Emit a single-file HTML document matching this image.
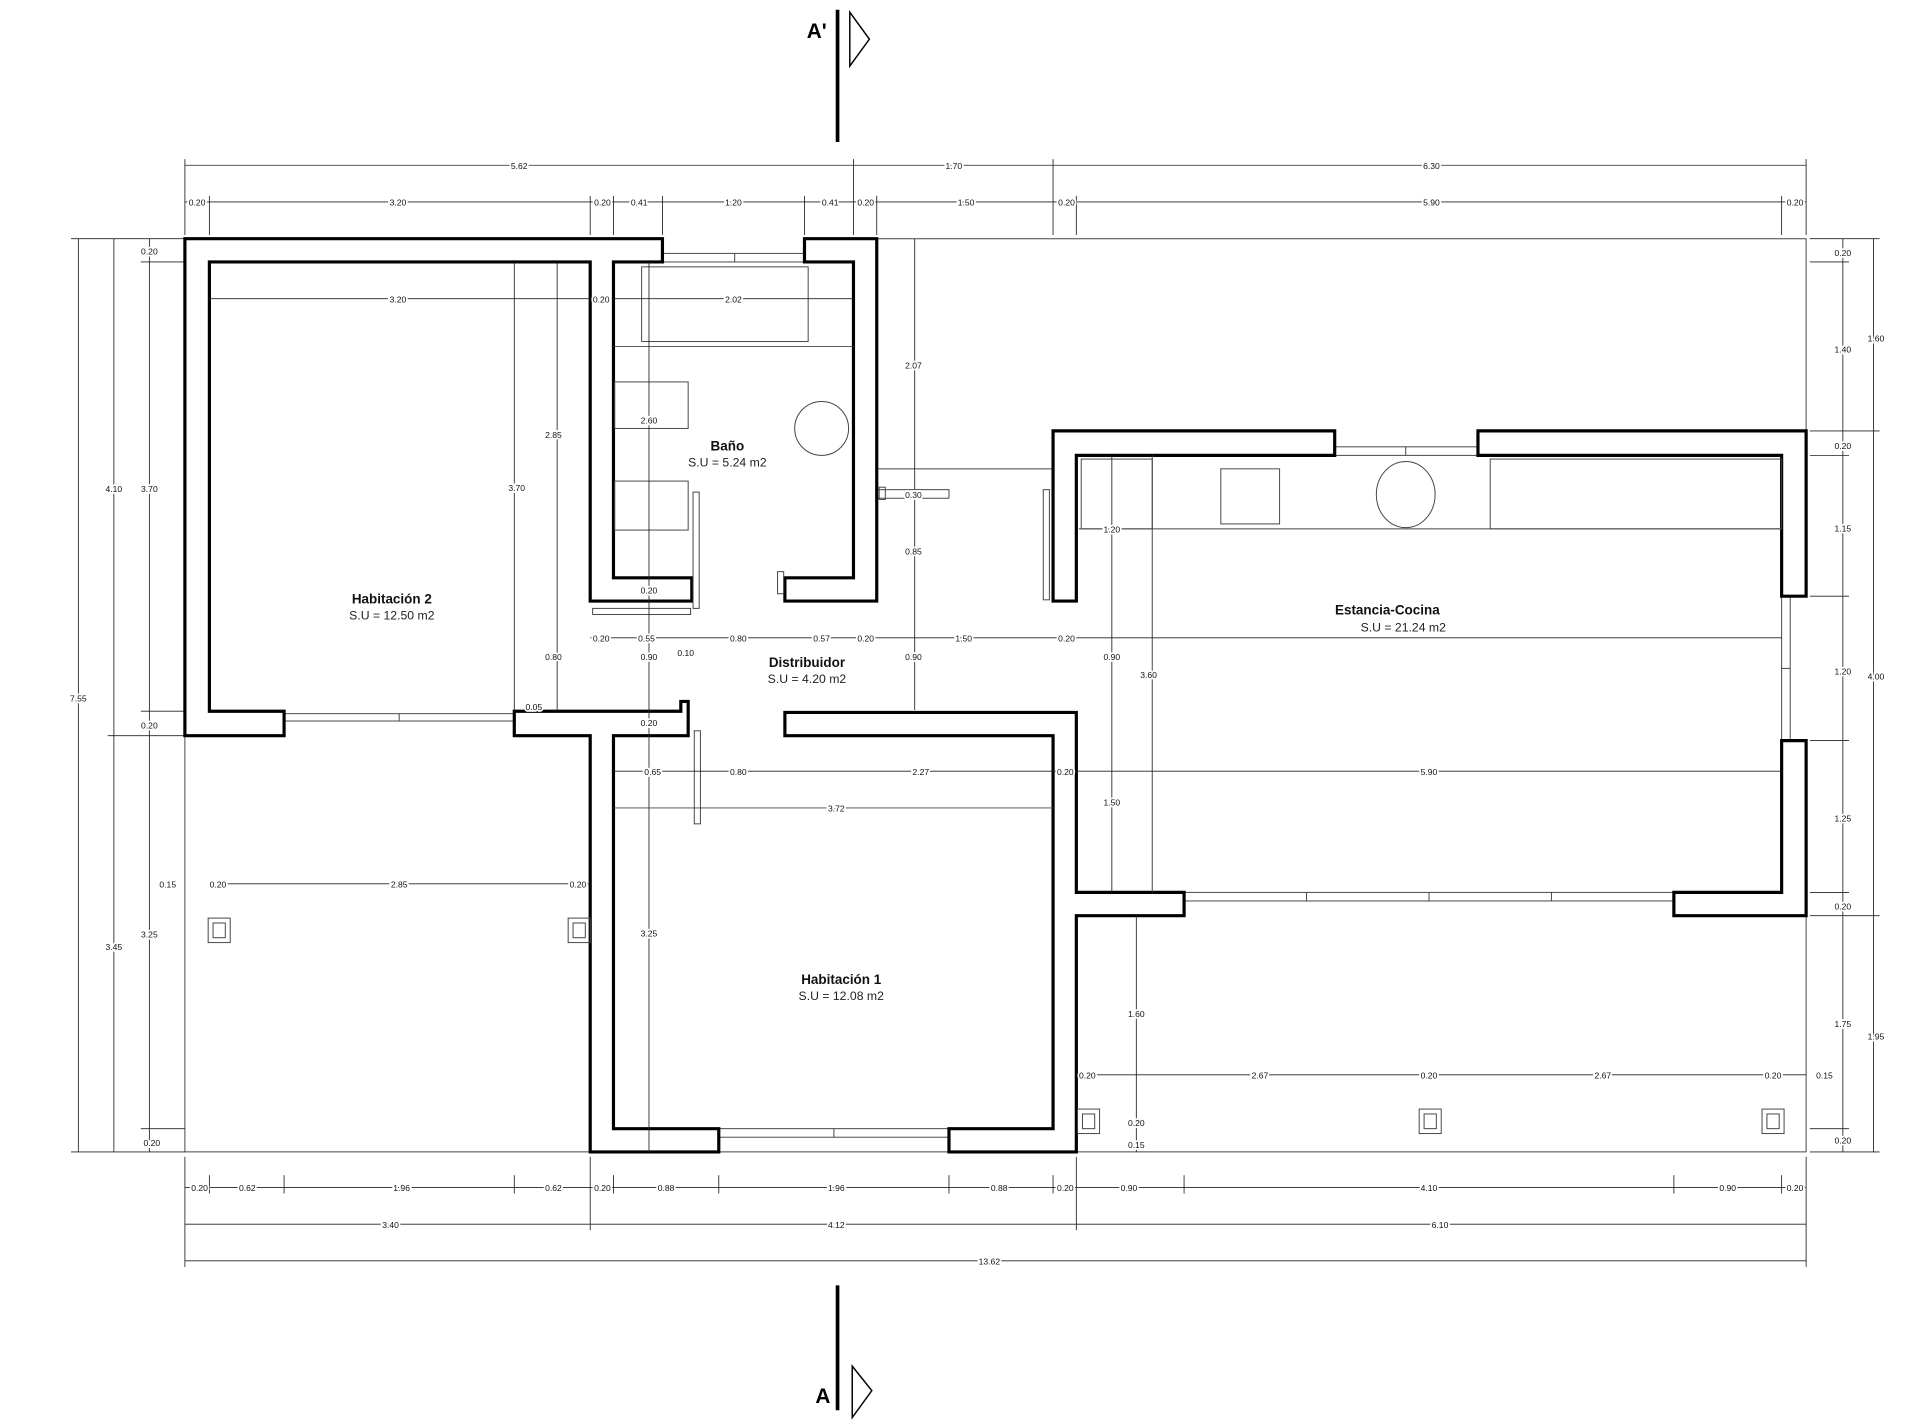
<!DOCTYPE html>
<html><head><meta charset="utf-8"><style>
html,body{margin:0;padding:0;background:#fff;}
svg{display:block}
.w{fill:#fff;stroke:#000;stroke-width:2.6;stroke-linejoin:miter}
.t{fill:none;stroke:#444;stroke-width:0.8}
.d{fill:none;stroke:#222;stroke-width:0.7}
.n{font-family:"Liberation Sans",sans-serif;font-size:7px;fill:#111;text-anchor:middle;stroke:#fff;stroke-width:3px;paint-order:stroke}
.L{font-family:"Liberation Sans",sans-serif;font-size:11px;font-weight:bold;fill:#111;text-anchor:middle}
.s{font-family:"Liberation Sans",sans-serif;font-size:10px;fill:#222;text-anchor:middle}
</style></head><body>
<svg width="1920" height="1420" viewBox="0 0 1568 1160" preserveAspectRatio="none" xmlns="http://www.w3.org/2000/svg">
<rect width="1568" height="1160" fill="#fff"/>
<!-- section markers -->
<line x1="684" y1="8" x2="684" y2="116" stroke="#000" stroke-width="3"/>
<polygon points="694,10 710,32 694,54" fill="none" stroke="#000" stroke-width="1.2"/>
<text x="667" y="31" font-family="Liberation Sans" font-weight="bold" font-size="17" text-anchor="middle">A'</text>
<line x1="684" y1="1050" x2="684" y2="1152" stroke="#000" stroke-width="3"/>
<polygon points="696,1116 712,1136 696,1158" fill="none" stroke="#000" stroke-width="1.2"/>
<text x="672" y="1146" font-family="Liberation Sans" font-weight="bold" font-size="17" text-anchor="middle">A</text>

<!-- porch outline -->
<polyline class="t" points="716,195 1475,195 1475,352"/>
<polyline class="t" points="151,601 151,941 482,941"/>
<line class="t" x1="587" y1="941" x2="775" y2="941"/>
<polyline class="t" points="879,941 1475,941 1475,748"/>
<line class="t" x1="716" y1="383" x2="860" y2="383"/>

<!-- dimension lines top -->
<line class="d" x1="151" y1="135" x2="1475" y2="135"/>
<line class="d" x1="151" y1="165" x2="1475" y2="165"/>
<g class="d">
<line x1="151" y1="130" x2="151" y2="192"/><line x1="697" y1="130" x2="697" y2="192"/><line x1="860" y1="130" x2="860" y2="192"/><line x1="1475" y1="130" x2="1475" y2="192"/>
<line x1="171" y1="160" x2="171" y2="192"/><line x1="482" y1="160" x2="482" y2="192"/><line x1="501" y1="160" x2="501" y2="192"/><line x1="541" y1="160" x2="541" y2="192"/><line x1="657" y1="160" x2="657" y2="192"/><line x1="716" y1="160" x2="716" y2="192"/><line x1="879" y1="160" x2="879" y2="192"/><line x1="1455" y1="160" x2="1455" y2="192"/>
<line x1="747" y1="195" x2="747" y2="580"/>
</g>
<g class="n">
<text x="424" y="138">5.62</text><text x="779" y="138">1.70</text><text x="1169" y="138">6.30</text>
<text x="161" y="168">0.20</text><text x="325" y="168">3.20</text><text x="492" y="168">0.20</text><text x="522" y="168">0.41</text><text x="599" y="168">1.20</text><text x="678" y="168">0.41</text><text x="707" y="168">0.20</text><text x="789" y="168">1.50</text><text x="871" y="168">0.20</text><text x="1169" y="168">5.90</text><text x="1466" y="168">0.20</text>
</g>
<!-- bottom dims -->
<line class="d" x1="151" y1="970" x2="1475" y2="970"/>
<line class="d" x1="151" y1="1000" x2="1475" y2="1000"/>
<line class="d" x1="151" y1="1030" x2="1475" y2="1030"/>
<g class="d">
<line x1="151" y1="945" x2="151" y2="1035"/><line x1="1475" y1="945" x2="1475" y2="1035"/><line x1="482" y1="945" x2="482" y2="1005"/><line x1="879" y1="945" x2="879" y2="1005"/>
<line x1="171" y1="960" x2="171" y2="975"/><line x1="232" y1="960" x2="232" y2="975"/><line x1="420" y1="960" x2="420" y2="975"/><line x1="501" y1="960" x2="501" y2="975"/><line x1="587" y1="960" x2="587" y2="975"/><line x1="775" y1="960" x2="775" y2="975"/><line x1="860" y1="960" x2="860" y2="975"/><line x1="967" y1="960" x2="967" y2="975"/><line x1="1367" y1="960" x2="1367" y2="975"/><line x1="1455" y1="960" x2="1455" y2="975"/>
</g>
<g class="n">
<text x="163" y="973">0.20</text><text x="202" y="973">0.62</text><text x="328" y="973">1.96</text><text x="452" y="973">0.62</text><text x="492" y="973">0.20</text><text x="544" y="973">0.88</text><text x="683" y="973">1.96</text><text x="816" y="973">0.88</text><text x="870" y="973">0.20</text><text x="922" y="973">0.90</text><text x="1167" y="973">4.10</text><text x="1411" y="973">0.90</text><text x="1466" y="973">0.20</text>
<text x="319" y="1003">3.40</text><text x="683" y="1003">4.12</text><text x="1176" y="1003">6.10</text><text x="808" y="1033">13.62</text>
</g>
<!-- left dims -->
<g class="d">
<line x1="64" y1="195" x2="64" y2="941"/><line x1="93" y1="195" x2="93" y2="941"/><line x1="122" y1="195" x2="122" y2="941"/>
<line x1="58" y1="195" x2="151" y2="195"/><line x1="58" y1="941" x2="151" y2="941"/><line x1="88" y1="601" x2="151" y2="601"/><line x1="115" y1="214" x2="151" y2="214"/><line x1="115" y1="581" x2="151" y2="581"/><line x1="115" y1="922" x2="151" y2="922"/>
</g>
<g class="n">
<text x="64" y="573">7.55</text><text x="93" y="402">4.10</text><text x="93" y="776">3.45</text>
<text x="122" y="208">0.20</text><text x="122" y="402">3.70</text><text x="122" y="595">0.20</text><text x="137" y="725">0.15</text><text x="122" y="766">3.25</text><text x="124" y="936">0.20</text>
</g>
<!-- right dims -->
<g class="d">
<line x1="1530" y1="195" x2="1530" y2="941"/><line x1="1505" y1="195" x2="1505" y2="941"/>
<line x1="1478" y1="195" x2="1535" y2="195"/><line x1="1478" y1="352" x2="1535" y2="352"/><line x1="1478" y1="748" x2="1535" y2="748"/><line x1="1478" y1="941" x2="1535" y2="941"/>
<line x1="1478" y1="214" x2="1510" y2="214"/><line x1="1478" y1="372" x2="1510" y2="372"/><line x1="1478" y1="487" x2="1510" y2="487"/><line x1="1478" y1="605" x2="1510" y2="605"/><line x1="1478" y1="729" x2="1510" y2="729"/><line x1="1478" y1="922" x2="1510" y2="922"/>
</g>
<g class="n">
<text x="1532" y="279">1.60</text><text x="1532" y="555">4.00</text><text x="1532" y="849">1.95</text>
<text x="1505" y="209">0.20</text><text x="1505" y="288">1.40</text><text x="1505" y="367">0.20</text><text x="1505" y="434">1.15</text><text x="1505" y="551">1.20</text><text x="1505" y="671">1.25</text><text x="1505" y="743">0.20</text><text x="1505" y="839">1.75</text><text x="1490" y="881">0.15</text><text x="1505" y="934">0.20</text>
</g>

<!-- windows -->
<g class="t">
<rect x="541" y="207" width="116" height="7"/><line x1="600" y1="207" x2="600" y2="214"/>
<rect x="232" y="583" width="188" height="6"/><line x1="326" y1="583" x2="326" y2="589"/>
<rect x="587" y="922" width="188" height="7"/><line x1="681" y1="922" x2="681" y2="929"/>
<rect x="1090" y="365" width="117" height="7"/><line x1="1148" y1="365" x2="1148" y2="372"/>
<rect x="967" y="729" width="400" height="7"/><line x1="1067" y1="729" x2="1067" y2="736"/><line x1="1167" y1="729" x2="1167" y2="736"/><line x1="1267" y1="729" x2="1267" y2="736"/>
<rect x="1455" y="487" width="7" height="118"/><line x1="1455" y1="546" x2="1462" y2="546"/>
<rect x="716" y="400" width="59" height="7"/>
</g>

<!-- walls -->
<polygon class="w" points="151,195 541,195 541,214 501,214 501,472 565,472 565,491 482,491 482,214 171,214 171,581 232,581 232,601 151,601"/>
<polygon class="w" points="657,195 716,195 716,491 641,491 641,472 697,472 697,214 657,214"/>
<polygon class="w" points="420,581 556,581 556,573 562,573 562,601 501,601 501,922 587,922 587,941 482,941 482,601 420,601"/>
<polygon class="w" points="641,582 879,582 879,729 967,729 967,748 879,748 879,941 775,941 775,922 860,922 860,601 641,601"/>
<polygon class="w" points="860,352 1090,352 1090,372 879,372 879,491 860,491"/>
<polygon class="w" points="1207,352 1475,352 1475,487 1455,487 1455,372 1207,372"/>
<polygon class="w" points="1455,605 1475,605 1475,748 1367,748 1367,729 1455,729"/>

<!-- doors -->
<g class="t">
<rect x="566" y="402" width="5" height="95"/>
<rect x="484" y="497" width="80" height="5"/>
<rect x="635" y="467" width="5" height="18"/>
<rect x="567" y="597" width="5" height="76"/>
<rect x="852" y="400" width="5" height="90"/>
<rect x="718" y="398" width="5" height="10"/>
</g>

<!-- fixtures -->
<g class="t">
<rect x="524" y="218" width="136" height="61"/>
<line x1="501" y1="283" x2="697" y2="283"/>
<circle cx="671" cy="350" r="22"/>
<rect x="502" y="312" width="60" height="38"/>
<rect x="502" y="393" width="60" height="40"/>
<rect x="883" y="375" width="58" height="57"/>
<line x1="941" y1="372" x2="941" y2="729"/>
<line x1="881" y1="432" x2="1455" y2="432"/>
<rect x="997" y="383" width="48" height="45"/>
<ellipse cx="1148" cy="404" rx="24" ry="27"/>
<rect x="1217" y="375" width="238" height="57"/>
<line x1="501" y1="660" x2="860" y2="660"/>
<rect x="170" y="750" width="18" height="20"/><rect x="174" y="754" width="10" height="12"/>
<rect x="464" y="750" width="18" height="20"/><rect x="468" y="754" width="10" height="12"/>
<rect x="880" y="906" width="18" height="20"/><rect x="884" y="910" width="10" height="12"/>
<rect x="1159" y="906" width="18" height="20"/><rect x="1163" y="910" width="10" height="12"/>
<rect x="1439" y="906" width="18" height="20"/><rect x="1443" y="910" width="10" height="12"/>
</g>

<!-- interior dims -->
<g class="d">
<line x1="171" y1="244" x2="482" y2="244"/><line x1="501" y1="244" x2="697" y2="244"/>
<line x1="420" y1="214" x2="420" y2="581"/><line x1="455" y1="214" x2="455" y2="581"/>
<line x1="530" y1="214" x2="530" y2="941"/>
<line x1="482" y1="521" x2="1455" y2="521"/>
<line x1="501" y1="630" x2="1455" y2="630"/>
<line x1="908" y1="372" x2="908" y2="729"/>
<line x1="928" y1="748" x2="928" y2="941"/>
<line x1="171" y1="722" x2="482" y2="722"/>
<line x1="879" y1="878" x2="1475" y2="878"/>
</g>
<g class="n">
<text x="325" y="247">3.20</text><text x="491" y="247">0.20</text><text x="599" y="247">2.02</text>
<text x="452" y="358">2.85</text><text x="422" y="401">3.70</text><text x="746" y="301">2.07</text><text x="746" y="453">0.85</text><text x="746" y="539">0.90</text><text x="746" y="407">0.30</text>
<text x="530" y="346">2.60</text><text x="530" y="485">0.20</text>
<text x="491" y="524">0.20</text><text x="528" y="524">0.55</text><text x="603" y="524">0.80</text><text x="671" y="524">0.57</text><text x="707" y="524">0.20</text><text x="787" y="524">1.50</text><text x="871" y="524">0.20</text>
<text x="560" y="536">0.10</text><text x="452" y="539">0.80</text><text x="530" y="539">0.90</text><text x="436" y="580">0.05</text><text x="530" y="593">0.20</text>
<text x="533" y="633">0.65</text><text x="603" y="633">0.80</text><text x="752" y="633">2.27</text><text x="870" y="633">0.20</text><text x="1167" y="633">5.90</text>
<text x="683" y="663">3.72</text><text x="908" y="658">1.50</text><text x="908" y="539">0.90</text><text x="938" y="554">3.60</text><text x="908" y="435">1.20</text>
<text x="178" y="725">0.20</text><text x="326" y="725">2.85</text><text x="472" y="725">0.20</text>
<text x="530" y="765">3.25</text><text x="928" y="831">1.60</text><text x="928" y="920">0.20</text><text x="928" y="938">0.15</text>
<text x="888" y="881">0.20</text><text x="1029" y="881">2.67</text><text x="1167" y="881">0.20</text><text x="1309" y="881">2.67</text><text x="1448" y="881">0.20</text>
</g>

<!-- room labels -->
<text class="L" x="320" y="493">Habitación 2</text><text class="s" x="320" y="506">S.U = 12.50 m2</text>
<text class="L" x="594" y="368">Baño</text><text class="s" x="594" y="381">S.U = 5.24 m2</text>
<text class="L" x="659" y="545">Distribuidor</text><text class="s" x="659" y="558">S.U = 4.20 m2</text>
<text class="L" x="1133" y="502">Estancia-Cocina</text><text class="s" x="1146" y="516">S.U = 21.24 m2</text>
<text class="L" x="687" y="804">Habitación 1</text><text class="s" x="687" y="817">S.U = 12.08 m2</text>
</svg>
</body></html>
